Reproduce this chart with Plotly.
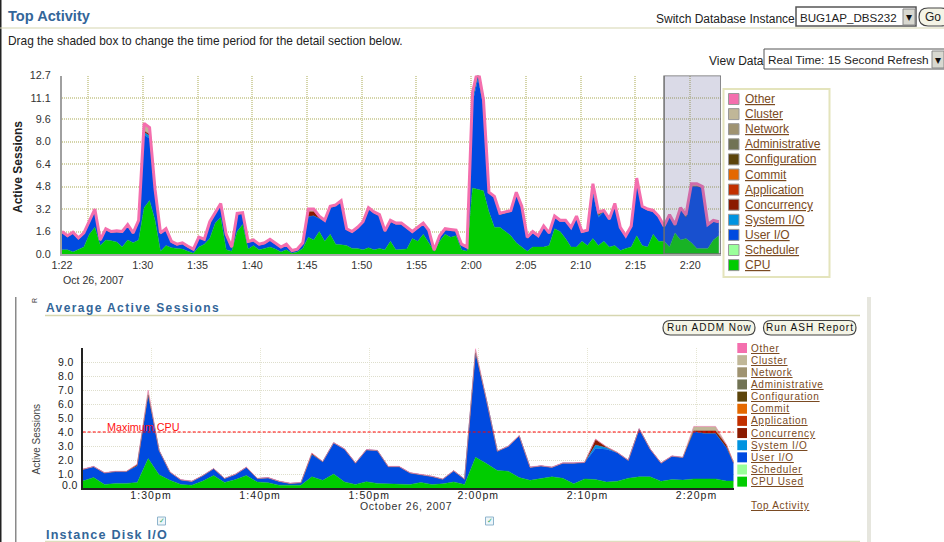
import plotly.graph_objects as go

W, H = 944, 542

# ---------- Top Activity data (active sessions, one reading per half minute) ----------
top_start_minute = 22.62
top_step = 0.5
top_total = [1.6,1.3,1.55,1.15,1.5,2.4,3.2,1.0,1.8,1.6,
             1.65,1.6,2.1,1.5,2.4,9.3,9.0,4.6,1.5,1.8,
             0.9,0.7,0.8,0.55,0.35,1.2,1.05,2.3,3.0,3.6,
             1.4,0.5,2.9,2.95,0.9,1.0,0.7,0.8,1.05,0.75,
             0.5,0.7,0.25,0.35,0.8,3.2,3.2,2.7,2.4,3.4,
             3.5,3.8,1.8,1.6,1.9,2.3,3.3,3.0,2.8,1.65,
             2.4,2.2,2.2,1.9,1.6,1.9,2.2,1.7,0.25,1.3,
             1.8,1.75,1.7,0.7,0.5,11.5,13.2,11.0,4.4,4.1,
             2.9,3.0,3.1,4.4,3.4,1.2,1.6,1.3,2.0,1.5,
             2.7,2.4,2.4,1.9,2.7,1.6,1.7,5.0,3.0,3.1,
             2.5,3.6,1.9,1.3,2.0,5.4,3.4,3.2,3.1,2.7,
             2.0,2.8,2.1,3.3,2.8,5.0,5.0,4.8,2.1,2.4,2.3]
top_cpu = [0.3,0.3,0.15,0.3,0.5,1.4,1.9,0.6,1.0,0.95,
           0.85,0.5,1.0,0.8,1.0,3.3,3.8,2.4,0.2,0.6,
           0.45,0.4,0.35,0.2,0.05,0.5,0.7,1.1,2.2,2.6,
           0.3,0.2,1.6,2.1,0.35,0.6,0.3,0.4,0.5,0.35,
           0.15,0.3,0.05,0.15,0.4,1.2,1.0,1.6,0.9,1.4,
           0.7,0.65,0.6,0.4,0.4,0.3,0.45,0.3,0.4,0.3,
           0.9,0.3,0.3,0.35,1.1,0.9,1.4,0.8,0.2,0.9,
           1.4,1.2,1.3,0.3,0.2,4.7,4.6,4.5,3.0,1.9,
           1.9,1.6,1.3,0.8,0.5,0.2,0.5,0.5,0.5,0.6,
           1.8,1.6,1.1,0.5,0.5,0.9,0.6,1.1,0.6,0.9,
           0.5,0.6,0.25,0.4,0.5,1.3,0.6,0.5,1.4,0.9,
           0.9,0.5,1.5,1.0,1.1,0.8,0.4,0.4,0.4,1.0,1.3]
top_system_io = [0]*15 + [0.2,0.2,0.1] + [0]*57 + [0.3,0.3,0.2] + [0]*19 + [0.35,0.1] + [0]*22
top_concurrency = [0]*15 + [0.1,0.1] + [0]*28 + [0.35,0.3,0.1] + [0]*49 + [0.2,0.1] + [0]*23
top_cluster = [0]*15 + [0.45,0.4,0.1] + [0]*27 + [0.1,0.1] + [0]*28 + [0.35,0.35,0.2] + [0]*19 + [0.1,0.1] + [0]*15 + [0.1,0.1,0.1] + [0]*4
top_other = [0.08]*121

# ---------- Average Active Sessions data (one reading per minute) ----------
avg_minutes = [23.74,24.74,25.74,26.74,27.74,28.74,29.74,30.74,31.74,32.74,
               33.74,34.74,35.74,36.74,37.74,38.74,39.74,40.74,41.74,42.74,
               43.74,44.74,45.74,46.74,47.74,48.74,49.74,50.74,51.74,52.74,
               53.74,54.74,55.74,56.74,57.74,58.74,59.74,60.74,61.74,62.74,
               63.74,64.74,65.74,66.74,67.74,68.74,69.74,70.74,71.74,72.74,
               73.74,74.74,75.74,76.74,77.74,78.74,79.74,80.74,81.74,82.74,83.4]
avg_total = [1.35,1.55,1.1,1.2,1.2,1.7,7.0,2.7,1.15,0.6,
             0.5,0.9,1.4,0.7,1.0,1.5,0.7,0.75,0.5,0.35,
             0.4,2.5,1.9,3.25,2.8,1.8,2.75,2.7,1.55,1.55,
             1.1,1.0,0.85,0.65,1.25,0.65,9.95,6.3,2.65,3.0,
             3.75,1.5,1.6,1.5,1.8,1.8,1.85,3.5,2.95,2.55,
             2.0,4.25,2.8,1.8,2.3,2.2,4.4,4.4,4.4,3.1,1.8]
avg_cpu = [0.5,0.75,0.25,0.33,0.33,0.4,2.1,0.95,0.55,0.25,
           0.2,0.5,0.9,0.4,0.6,0.9,0.43,0.38,0.2,0.2,
           0.2,0.8,0.55,1.0,0.43,0.25,0.45,0.33,0.3,0.25,
           0.25,0.4,0.25,0.3,0.43,0.25,2.2,1.75,1.25,1.2,
           0.75,0.55,0.65,0.8,0.7,0.3,0.65,0.6,0.43,0.48,
           0.7,0.8,0.8,0.48,0.6,0.57,0.65,0.65,0.65,0.5,0.5]
avg_system_io = [0]*47 + [0.25,0.1] + [0]*12
avg_concurrency = [0]*5 + [0.1] + [0]*15 + [0.1] + [0]*25 + [0.4,0.05] + [0]*7 + [0.05,0.2,0.2,0.2] + [0,0]
avg_cluster = [0]*6 + [0.25] + [0]*29 + [0.2] + [0]*19 + [0.28,0.28,0.28] + [0,0]
avg_other = [0.03]*6 + [0.1] + [0.03]*29 + [0.1] + [0.03]*24

# ---------- Labels ----------
def spaced(s, px):
    return f'<span style="letter-spacing:{px}px">{s}</span>'

top_xticks = [22.62,25,30,35,40,45,50,55,60,65,70,75,80]
top_xlabels = ["1:22","","1:30","1:35","1:40","1:45","1:50","1:55","2:00","2:05","2:10","2:15","2:20"]
top_yticks = [0,1.6,3.2,4.8,6.4,8.0,9.6,11.1,12.7]
top_ylabels = ["0.0","1.6","3.2","4.8","6.4","8.0","9.6","11.1","12.7"]
avg_xticks = [30,40,50,60,70,80]
avg_xlabels = [spaced(s, 1.1) for s in ["1:30pm","1:40pm","1:50pm","2:00pm","2:10pm","2:20pm"]]
avg_yticks = [1,2,3,4,5,6,7,8,9]
avg_ylabels = [spaced(s, 0.4) for s in ["1.0","2.0","3.0","4.0","5.0","6.0","7.0","8.0","9.0"]]
top_legend = ["Other","Cluster","Network","Administrative","Configuration","Commit",
              "Application","Concurrency","System I/O","User I/O","Scheduler","CPU"]
avg_legend = top_legend[:-1] + ["CPU Used"]
legend_colors = ["#f46fae","#c0b798","#9f9371","#717354","#5c440b","#e46800",
                 "#c23000","#8b1a00","#0093e0","#004ae0","#9aff9a","#00cc00"]
C = dict(zip(top_legend, legend_colors))
LINK = "#7a4a22"; BLUE = "#336699"; RULE = "#d6d6b0"; SANS = "Liberation Sans"

fx = lambda x: x / W
fy = lambda y: 1 - y / H
fig = go.Figure()
shapes, notes = [], []

def rect(x0, y0, x1, y1, fill=None, line=None, lw=1, layer="above"):
    shapes.append(dict(type="rect", xref="paper", yref="paper", x0=fx(x0), x1=fx(x1), y0=fy(y1), y1=fy(y0),
                       fillcolor=fill or "rgba(0,0,0,0)", line=dict(color=line or "rgba(0,0,0,0)", width=lw if line else 0), layer=layer))

def hline(x0, x1, y, color, lw=1):
    shapes.append(dict(type="line", xref="paper", yref="paper", x0=fx(x0), x1=fx(x1), y0=fy(y), y1=fy(y), line=dict(color=color, width=lw)))

def pill(x0, y0, x1, y1, fill="#f4f4e6", line="#444444"):
    r = (y1 - y0) / 2
    p = (f"M {fx(x0+r)} {fy(y0)} L {fx(x1-r)} {fy(y0)} Q {fx(x1)} {fy(y0)} {fx(x1)} {fy(y0+r)} "
         f"Q {fx(x1)} {fy(y1)} {fx(x1-r)} {fy(y1)} L {fx(x0+r)} {fy(y1)} "
         f"Q {fx(x0)} {fy(y1)} {fx(x0)} {fy(y0+r)} Q {fx(x0)} {fy(y0)} {fx(x0+r)} {fy(y0)} Z")
    shapes.append(dict(type="path", xref="paper", yref="paper", path=p, fillcolor=fill, line=dict(color=line, width=1.2)))

def text(x, y, s, size=12, color="#222222", anchor="left", family=SANS, angle=0):
    shift = {"left": -2, "right": 3, "center": 0}[anchor]
    notes.append(dict(x=fx(x + shift), y=fy(y), xref="paper", yref="paper", text=s, showarrow=False, xanchor=anchor, yanchor="middle",
                      align=anchor, textangle=angle, font=dict(size=size, color=color, family=family)))

def area(xs, ys, name, color, xa, ya, group, lw=0.4):
    fig.add_trace(go.Scatter(x=xs, y=ys, name=name, mode="lines", stackgroup=group, xaxis=xa, yaxis=ya,
                             fillcolor=color, line=dict(color=color, width=lw), showlegend=False, hoverinfo="skip"))

# Top chart
top_x = [top_start_minute + top_step * i for i in range(len(top_total))]
top_user = [max(t - c - s - k - u - o, 0) for t, c, s, k, u, o in zip(top_total, top_cpu, top_system_io, top_concurrency, top_cluster, top_other)]
for ys, n in [(top_cpu,"CPU"),(top_user,"User I/O"),(top_system_io,"System I/O"),(top_concurrency,"Concurrency"),(top_cluster,"Cluster")]:
    area(top_x, ys, n, C[n], "x", "y", "top")
area(top_x, top_other, "Other", C["Other"], "x", "y", "top", lw=3)

# Detail chart
avg_user = [max(t - c - s - k - u - o, 0) for t, c, s, k, u, o in zip(avg_total, avg_cpu, avg_system_io, avg_concurrency, avg_cluster, avg_other)]
for ys, n in [(avg_cpu,"CPU"),(avg_user,"User I/O"),(avg_system_io,"System I/O"),(avg_concurrency,"Concurrency"),(avg_cluster,"Cluster"),(avg_other,"Other")]:
    area(avg_minutes, ys, n, C[n], "x2", "y2", "avg")
fig.add_trace(go.Scatter(x=[avg_minutes[0], avg_minutes[-1]], y=[4, 4], mode="lines", xaxis="x2", yaxis="y2", showlegend=False,
                         hoverinfo="skip", line=dict(color="#ff0000", width=1.2, dash="3px,2px")))

# Shaded selection box
shapes.append(dict(type="rect", xref="x", yref="y", x0=77.62, x1=82.82, y0=0, y1=12.7,
                   fillcolor="rgba(102,102,153,0.24)", line=dict(color="#6e6e6e", width=1.5), layer="above"))

# Page furniture
rect(0, 0, 1.5, H, fill="#222222")
text(8, 16, "<b>Top Activity</b>", 14.6, BLUE)
hline(0, W, 28, RULE, 1.2)
text(8, 41, "Drag the shaded box to change the time period for the detail section below.", 11.9)
text(794, 19, "Switch Database Instance", 12, anchor="right")
rect(796, 7, 916, 26, fill="white", line="#555555", lw=1.5)
rect(903, 9, 915, 25, fill="#d8d8d0", line="#888888")
text(800, 17, "BUG1AP_DBS232", 11.6)
text(909, 17, "▾", 12, "#111111", anchor="center")
pill(919, 8, 950, 26)
text(933, 17, "Go", 12, anchor="center")
text(763, 61, "View Data", 12, anchor="right")
rect(764, 49, 950, 69, fill="white", line="#555555", lw=1)
rect(932, 51, 944, 68, fill="#d8d8d0", line="#888888")
text(768, 59.5, "Real Time: 15 Second Refresh", 11.8)
text(938, 59.5, "▾", 12, "#111111", anchor="center")

# Top chart text
text(18, 167, "<b>Active Sessions</b>", 12, "#222222", anchor="center", angle=-90)
text(63, 280, "Oct 26, 2007", 10.6, "#333333")

# Top legend
rect(723.5, 89, 829.5, 277, fill="white", line="#e4e4bc", lw=2)
for i, (name, color) in enumerate(zip(top_legend, legend_colors)):
    yc = 99 + i * 15.1
    rect(728.5, yc - 5.5, 739, yc + 5.5, fill=color, line="#999999")
    text(745, yc, f"<u>{name}</u>", 12, LINK)

# Lower panel furniture
rect(15, 297, 16.5, H, fill="#8a8a8a")
rect(867, 297, 871, H, fill="#e6e6de")
text(34, 301, "R", 7, "#333333", anchor="center", angle=-90)
text(46, 308, "<b>" + spaced("Average Active Sessions", 1.4) + "</b>", 12, BLUE)
hline(45, 860, 315.5, RULE, 1.4)
pill(663, 320.5, 755, 335)
text(709, 327.5, spaced("Run ADDM Now", 1), 10, "#111111", anchor="center")
pill(763.5, 320.5, 856, 335)
text(810, 327.5, spaced("Run ASH Report", 1), 10, "#111111", anchor="center")
text(36, 439.5, "Active Sessions", 10, "#444444", anchor="center", angle=-90)
text(77, 484.5, spaced("0.0", 0.4), 10.5, "#222222", anchor="right")
text(107, 427, "Maximum CPU", 10.8, "#ff1010")
text(406, 506, spaced("October 26, 2007", 0.7), 10.5, "#333333", anchor="center")
for i, (name, color) in enumerate(zip(avg_legend, legend_colors)):
    yc = 348 + i * 12.15
    rect(737.3, yc - 5, 747, yc + 5, fill=color)
    text(751, yc, "<u>" + spaced(name, 0.7) + "</u>", 10, LINK)
text(751, 505, "<u>" + spaced("Top Activity", 0.7) + "</u>", 10, LINK)
for cx in (161.5, 489.5):
    rect(cx - 4, 517, cx + 4, 525, fill="#eef6fa", line="#8fb4cc")
    text(cx, 521, "✓", 7, "#33aa66", anchor="center", family="DejaVu Sans")
text(46, 534.5, "<b>" + spaced("Instance Disk I/O", 1.2) + "</b>", 12.6, BLUE)
hline(45, 860, 541.3, RULE, 1)

tick_top = dict(size=10.8, color="#333333", family=SANS)
tick_avg = dict(size=10.5, color="#222222", family=SANS)
grid_top = "#d4d4a8"
fig.update_layout(
    width=W, height=H, margin=dict(l=0, r=0, t=0, b=0, autoexpand=False), paper_bgcolor="white", plot_bgcolor="white",
    showlegend=False, shapes=shapes, annotations=notes,
    xaxis=dict(domain=[fx(62), fx(721)], range=[top_start_minute, 82.82], tickmode="array", tickvals=top_xticks, ticktext=top_xlabels,
               showgrid=True, gridcolor=grid_top, gridwidth=1.5, griddash="1px,1px", showline=True, linecolor="#aaaaaa", linewidth=1.5,
               ticks="", ticklabelstandoff=0, tickfont=tick_top, zeroline=False, automargin=False),
    yaxis=dict(domain=[fy(254), fy(75.6)], range=[0, 12.7], tickmode="array", tickvals=top_yticks, ticktext=top_ylabels,
               showgrid=True, gridcolor=grid_top, gridwidth=1.5, griddash="1px,1px", showline=True, linecolor="#a0a0a0", linewidth=2,
               ticks="", ticklabelstandoff=7, tickfont=tick_top, zeroline=False, automargin=False),
    xaxis2=dict(domain=[fx(82.7), fx(733.7)], range=[23.74, 83.4], anchor="y2", tickmode="array", tickvals=avg_xticks, ticktext=avg_xlabels,
                showgrid=True, gridcolor="#e6e6d4", griddash="1px,1px", showline=True, linecolor="#222222", linewidth=1.5,
                ticks="", ticklabelstandoff=-3, tickfont=tick_avg, zeroline=False, automargin=False),
    yaxis2=dict(domain=[fy(488), fy(348)], range=[0, 10], anchor="x2", tickmode="array", tickvals=avg_yticks, ticktext=avg_ylabels,
                showgrid=True, gridcolor="#dedecc", griddash="1px,1px", showline=True, linecolor="#222222", linewidth=1.5,
                ticks="", ticklabelstandoff=5, tickfont=tick_avg, zeroline=False, automargin=False),
)

fig.write_html("out.html", config={"displayModeBar": False},
               post_script="document.body.style.margin='0';document.documentElement.style.overflow='hidden';")
